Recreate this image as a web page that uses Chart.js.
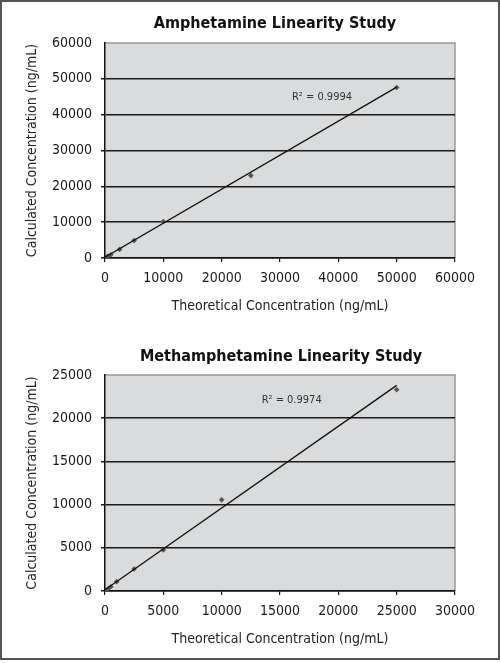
<!DOCTYPE html>
<html>
<head>
<meta charset="utf-8">
<script src="https://cdn.jsdelivr.net/npm/chart.js@4"></script>
<style>
  html, body { margin: 0; padding: 0; background: #fff; }
  #frame { position: absolute; left: 0; top: 0; width: 496px; height: 656px; border: 2px solid #555; }
  .box { position: absolute; left: 0; width: 500px; }
</style>
</head>
<body>
<div id="frame"></div>
<div class="box" style="top:0;height:330px"><canvas id="amphChart"></canvas></div>
<div class="box" style="top:330px;height:333px"><canvas id="methChart"></canvas></div>
<script>
// Amphetamine linearity data (ng/mL)
const amphTheoretical = [100, 250, 500, 1000, 2500, 5000, 10000, 25000, 50000]
const amphCalculated = [100, 240, 480, 900, 2400, 4900, 10200, 23000, 47600]
const amphTrendX = [0, 50000]
const amphTrendY = [200, 47700]
const amphR2 = "R² = 0.9994"

// Methamphetamine linearity data (ng/mL)
const methTheoretical = [100, 250, 500, 1000, 2500, 5000, 10000, 25000]
const methCalculated = [90, 240, 500, 1080, 2550, 4750, 10550, 23300]
const methTrendX = [0, 25000]
const methTrendY = [150, 23800]
const methR2 = "R² = 0.9974"

const amphXTicks = [0, 10000, 20000, 30000, 40000, 50000, 60000]
const amphYTicks = [0, 10000, 20000, 30000, 40000, 50000, 60000]
const methXTicks = [0, 5000, 10000, 15000, 20000, 25000, 30000]
const methYTicks = [0, 5000, 10000, 15000, 20000, 25000]

const FONT = "'Liberation Sans Narrow', 'DejaVu Sans Condensed', 'Arial Narrow', sans-serif"

// plot background, gray frame, heading and R² label
const decorPlugin = {
  id: "decor",
  beforeDraw(chart, args, opts) {
    const { ctx, chartArea: a } = chart
    ctx.save()
    ctx.fillStyle = "#dadbdc"
    ctx.fillRect(a.left, a.top, a.right - a.left, a.bottom - a.top)
    ctx.strokeStyle = "#9a9a9a"
    ctx.lineWidth = 1.5
    ctx.beginPath()
    ctx.moveTo(a.left, a.top)
    ctx.lineTo(a.right, a.top)
    ctx.lineTo(a.right, a.bottom)
    ctx.stroke()
    ctx.restore()
  },
  afterDraw(chart, args, opts) {
    const { ctx } = chart
    ctx.save()
    ctx.fillStyle = "#111"
    ctx.textAlign = "center"
    ctx.textBaseline = "middle"
    ctx.font = "bold 16px " + FONT
    ctx.fillText(opts.title, opts.titleX, opts.titleY)
    ctx.fillStyle = "#333"
    ctx.font = "11px " + FONT
    ctx.fillText(opts.r2, chart.scales.x.getPixelForValue(opts.r2At[0]), chart.scales.y.getPixelForValue(opts.r2At[1]))
    ctx.restore()
  },
}

function makeChart(id, cfg) {
  const xMax = cfg.xTicks[cfg.xTicks.length - 1]
  const yMax = cfg.yTicks[cfg.yTicks.length - 1]
  return new Chart(document.getElementById(id), {
    type: "scatter",
    data: {
      datasets: [
        {
          label: "trend",
          data: cfg.trendX.map((x, i) => ({ x, y: cfg.trendY[i] })),
          showLine: true,
          borderColor: "#111",
          borderWidth: 1.3,
          pointRadius: 0,
        },
        {
          label: "points",
          data: cfg.xs.map((x, i) => ({ x, y: cfg.ys[i] })),
          pointStyle: "rectRot",
          pointRadius: 2.8,
          backgroundColor: "#555",
          borderColor: "#555",
          borderWidth: 0,
        },
      ],
    },
    options: {
      responsive: true,
      maintainAspectRatio: false,
      animation: false,
      layout: { padding: { top: cfg.plotTop, right: 45, left: 0, bottom: 0 } },
      plugins: {
        legend: { display: false },
        tooltip: { enabled: false },
        decor: { title: cfg.title, titleX: cfg.titleX, titleY: cfg.titleY, r2: cfg.r2, r2At: cfg.r2At },
      },
      scales: {
        x: {
          type: "linear",
          min: 0,
          max: xMax,
          afterBuildTicks: (s) => { s.ticks = cfg.xTicks.map((v) => ({ value: v })) },
          afterFit: (s) => { s.height = cfg.xHeight },
          border: { color: "#111", width: 1.5 },
          grid: { drawOnChartArea: false, drawTicks: true, tickLength: 4, color: "#111", lineWidth: 1.2 },
          ticks: { color: "#1a1a1a", font: { family: FONT, size: 14 }, padding: 8, maxRotation: 0, callback: (v) => String(v) },
          title: {
            display: true,
            text: "Theoretical Concentration (ng/mL)",
            color: "#222",
            font: { family: FONT, size: 14 },
            padding: { top: 4, bottom: cfg.xTitleBottom },
          },
        },
        y: {
          type: "linear",
          min: 0,
          max: yMax,
          afterBuildTicks: (s) => { s.ticks = cfg.yTicks.map((v) => ({ value: v })) },
          afterFit: (s) => { s.width = 105 },
          border: { color: "#111", width: 1.5 },
          grid: {
            drawTicks: true,
            tickLength: 4,
            lineWidth: 1.5,
            color: (c) => (c.tick && c.tick.value === yMax ? "rgba(0,0,0,0)" : "#1a1a1a"),
          },
          ticks: { color: "#1a1a1a", font: { family: FONT, size: 14 }, padding: 9, callback: (v) => String(v) },
          title: {
            display: true,
            text: "Calculated Concentration (ng/mL)",
            color: "#222",
            font: { family: FONT, size: 14 },
            padding: { top: 24, bottom: 4 },
          },
        },
      },
    },
    plugins: [decorPlugin],
  })
}

makeChart("amphChart", {
  title: "Amphetamine Linearity Study",
  titleX: 275, titleY: 24,
  r2: amphR2, r2At: [37200, 45000],
  xs: amphTheoretical, ys: amphCalculated,
  trendX: amphTrendX, trendY: amphTrendY,
  xTicks: amphXTicks, yTicks: amphYTicks,
  plotTop: 43, xHeight: 72, xTitleBottom: 15,
})

makeChart("methChart", {
  title: "Methamphetamine Linearity Study",
  titleX: 281, titleY: 27,
  r2: methR2, r2At: [16000, 22100],
  xs: methTheoretical, ys: methCalculated,
  trendX: methTrendX, trendY: methTrendY,
  xTicks: methXTicks, yTicks: methYTicks,
  plotTop: 45, xHeight: 72, xTitleBottom: 15,
})
</script>
</body>
</html>
